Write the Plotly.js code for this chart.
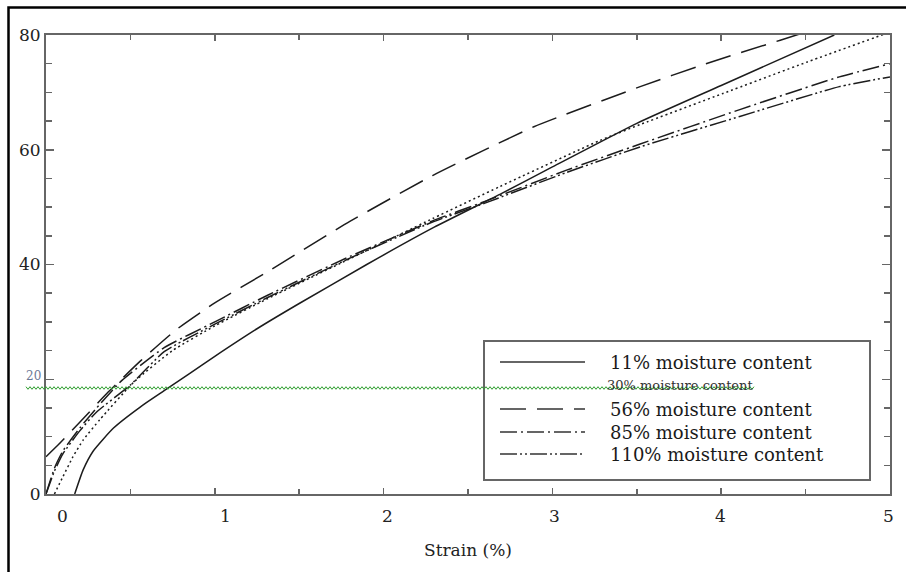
<!DOCTYPE html>
<html>
<head>
<meta charset="utf-8">
<script src="https://cdn.plot.ly/plotly-3.0.1.min.js"></script>
<style>
  html, body { margin: 0; padding: 0; background: #ffffff; }
  #chart { width: 906px; height: 572px; }
</style>
</head>
<body>
<div id="chart"></div>
<script>
// ---- Data ----
const seriesNames = [
  "11% moisture content",
  "30% moisture content",
  "56% moisture content",
  "85% moisture content",
  "110% moisture content"
];

const strain11 = [0.17, 0.22, 0.28, 0.40, 0.56, 0.70, 0.85, 1.00, 1.25, 1.50, 1.90, 2.30, 2.70, 3.00, 3.50, 4.00, 4.67];
const stress11 = [0, 4.2, 7.5, 11.5, 15.2, 18.0, 21.0, 24.0, 28.8, 33.2, 40.0, 46.5, 52.4, 57.0, 64.6, 71.2, 80.0];

const strain30 = [0.05, 0.10, 0.16, 0.22, 0.32, 0.52, 0.75, 1.00, 1.31, 1.80, 2.29, 2.69, 3.28, 3.52, 4.01, 4.51, 5.00];
const stress30 = [0, 3.0, 6.5, 9.4, 13.0, 19.5, 25.0, 29.3, 34.0, 41.0, 48.0, 53.6, 61.6, 64.4, 69.8, 75.3, 80.5];

const strain56 = [0, 0.08, 0.20, 0.36, 0.56, 0.77, 1.00, 1.31, 1.80, 2.29, 2.89, 3.52, 3.91, 4.35, 4.50];
const stress56 = [6.5, 8.8, 12.5, 17.5, 23.2, 28.6, 33.3, 38.7, 47.5, 55.5, 64.0, 71.0, 75.0, 79.1, 80.5];

const strain85 = [0, 0.05, 0.10, 0.20, 0.30, 0.45, 0.70, 1.00, 1.31, 1.80, 2.29, 2.60, 3.08, 3.52, 4.11, 4.70, 5.00];
const stress85 = [0, 4.5, 7.5, 11.5, 15.0, 19.8, 25.5, 30.0, 34.6, 41.4, 47.6, 51.0, 56.4, 61.0, 67.0, 72.7, 75.0];

const strain110 = [0, 0.05, 0.10, 0.20, 0.30, 0.50, 0.70, 1.00, 1.31, 1.80, 2.29, 2.60, 3.08, 3.52, 4.11, 4.70, 5.00];
const stress110 = [0, 4.0, 7.0, 11.0, 14.3, 19.0, 24.8, 29.6, 34.2, 41.1, 47.4, 50.7, 56.0, 60.5, 65.8, 71.0, 72.7];

const xTickVals = [0, 1, 2, 3, 4, 5];
const xTickText = ["0", "1", "2", "3", "4", "5"];
const yTickVals = [0, 20, 40, 60, 80];
const yTickText = ["0", "", "40", "60", "80"];
const smallYLabel = "20";
const xAxisTitle = "Strain (%)";

// ---- Styles (not data) ----
const INK = "#1c1c1c";
const dashes = ["solid", "2px,3px", "26px,11px", "17px,4px,2px,4px", "17px,3px,2px,3px,2px,3px"];
const xLabelShift = [16, 11, 4, 2, -1, -2];

// geometry helpers (pixels -> paper) for decorations
const W = 906, H = 572, L = 46, R = 16, T = 35, B = 78;
const PW = W - L - R, PH = H - T - B;
const px = (x) => (x - L) / PW;
const py = (y) => (H - B - y) / PH;

const xs = [strain11, strain30, strain56, strain85, strain110];
const ys = [stress11, stress30, stress56, stress85, stress110];

const traces = xs.map((x, i) => ({
  type: "scatter",
  mode: "lines",
  name: seriesNames[i],
  x: x,
  y: ys[i],
  line: { color: INK, width: 1.5, dash: dashes[i], shape: "spline", smoothing: 0.5 },
  showlegend: false,
  hoverinfo: "x+y+name"
}));

// ---- Decorations ----
const shapes = [];
// outer (cropped) frame: only top and left visible
shapes.push({
  type: "rect", xref: "paper", yref: "paper", layer: "above",
  x0: px(8.5), x1: px(1000), y0: py(7.5), y1: py(700),
  line: { color: "#000", width: 2.5 }, fillcolor: "rgba(0,0,0,0)"
});
// legend box
shapes.push({
  type: "rect", xref: "paper", yref: "paper", layer: "above",
  x0: px(484), x1: px(870), y0: py(341), y1: py(480),
  line: { color: "#666", width: 2 }, fillcolor: "rgba(255,255,255,0)"
});
// legend line samples (rows 0,2,3,4; row 1 has no sample in the reference)
const legendRowsY = [362, 385, 409, 432, 454];
[0, 2, 3, 4].forEach((i) => {
  shapes.push({
    type: "line", xref: "paper", yref: "paper", layer: "above",
    x0: px(500), x1: px(585), y0: py(legendRowsY[i]), y1: py(legendRowsY[i]),
    line: { color: "#333", width: 1.5, dash: dashes[i] }
  });
});
// green wavy proofing squiggle
(function () {
  let d = "";
  let k = 0;
  for (let x = 26; x <= 755; x += 2, k++) {
    const yy = 388 + (k % 2 === 0 ? -1.3 : 1.3);
    d += (k === 0 ? "M" : "L") + px(x).toFixed(5) + "," + py(yy).toFixed(5) + " ";
  }
  shapes.push({
    type: "path", xref: "paper", yref: "paper", layer: "above", path: d,
    line: { color: "#2e9e2e", width: 1 }
  });
})();

const annotations = [];
// legend texts
seriesNames.forEach((t, i) => {
  annotations.push({
    xref: "paper", yref: "paper", x: px(i === 1 ? 605 : 608), y: py(legendRowsY[i]),
    xanchor: "left", yanchor: "middle", showarrow: false, text: t,
    font: { family: "DejaVu Serif", size: i === 1 ? 13 : 18, color: i === 1 ? "#333" : "#1a1a1a" }
  });
});
// x tick labels
xTickVals.forEach((v, i) => {
  annotations.push({
    xref: "x", yref: "paper", x: v, y: 0, xshift: xLabelShift[i], yshift: -22,
    xanchor: "center", yanchor: "middle", showarrow: false, text: xTickText[i],
    font: { family: "DejaVu Serif", size: 17, color: "#222" }
  });
});
// small "20" y label
annotations.push({
  xref: "paper", yref: "y", x: px(43), y: 20, yshift: 3,
  xanchor: "right", yanchor: "middle", showarrow: false, text: smallYLabel,
  font: { family: "DejaVu Serif", size: 12, color: "#6b7896" }
});
// x axis title
annotations.push({
  xref: "paper", yref: "paper", x: 0.5, y: py(550),
  xanchor: "center", yanchor: "middle", showarrow: false, text: xAxisTitle,
  font: { family: "DejaVu Serif", size: 17, color: "#222" }
});

const layout = {
  width: W, height: H,
  margin: { l: L, r: R, t: T, b: B, pad: 0 },
  paper_bgcolor: "#ffffff",
  plot_bgcolor: "#ffffff",
  font: { family: "DejaVu Serif", size: 17, color: "#222" },
  showlegend: false,
  xaxis: {
    range: [0, 5], showgrid: false, zeroline: false,
    showline: true, linecolor: "#666", linewidth: 2, mirror: "ticks",
    ticks: "inside", ticklen: 6, tickwidth: 1.5, tickcolor: "#666",
    tickvals: xTickVals, showticklabels: false,
    minor: { dtick: 0.5, tick0: 0, ticks: "inside", ticklen: 5, tickwidth: 1.5, tickcolor: "#666", showgrid: false }
  },
  yaxis: {
    range: [0, 80], showgrid: false, zeroline: false,
    showline: true, linecolor: "#666", linewidth: 2, mirror: "ticks",
    ticks: "inside", ticklen: 8, tickwidth: 1.5, tickcolor: "#666",
    tickvals: yTickVals, ticktext: yTickText,
    tickfont: { family: "DejaVu Serif", size: 17, color: "#222" },
    minor: { dtick: 5, tick0: 0, ticks: "inside", ticklen: 6, tickwidth: 1.5, tickcolor: "#666", showgrid: false }
  },
  shapes: shapes,
  annotations: annotations
};

Plotly.newPlot("chart", traces, layout, { displayModeBar: false, staticPlot: true });
</script>
</body>
</html>
